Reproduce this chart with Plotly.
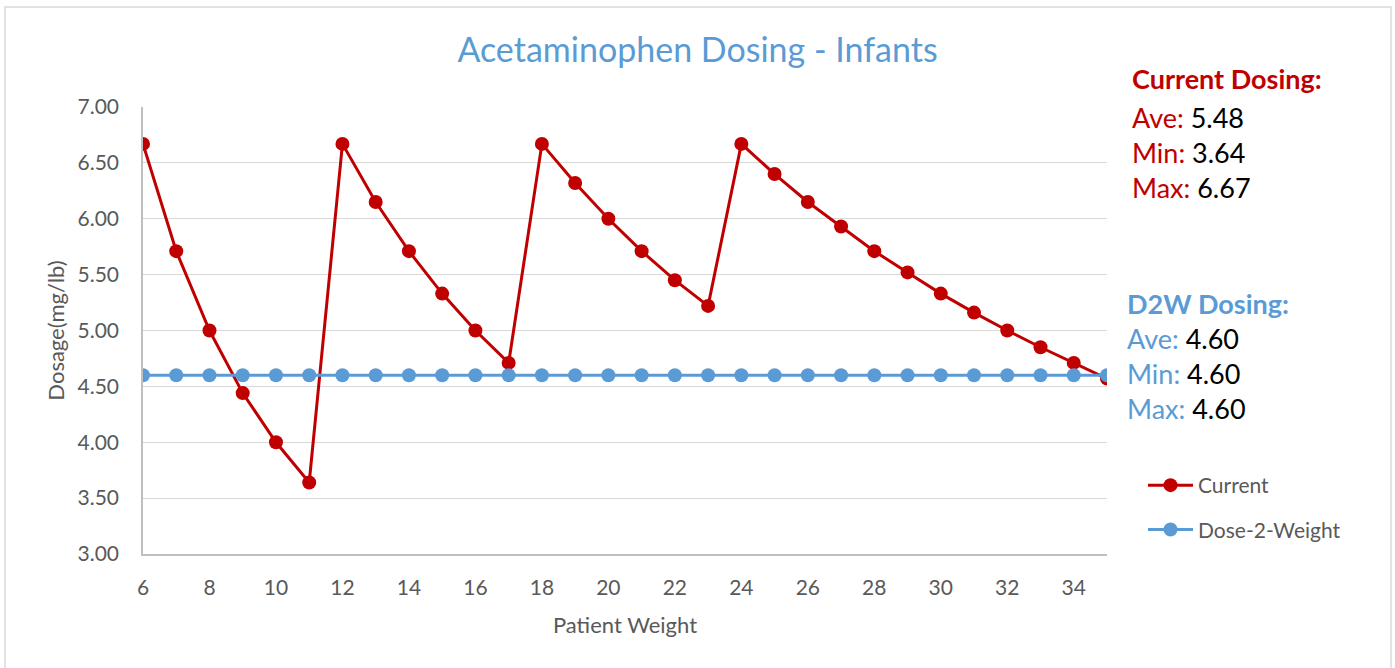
import plotly.graph_objects as go

weights = list(range(6, 36))
current = [6.67, 5.71, 5.00, 4.44, 4.00, 3.64,
           6.67, 6.15, 5.71, 5.33, 5.00, 4.71,
           6.67, 6.32, 6.00, 5.71, 5.45, 5.22,
           6.67, 6.40, 6.15, 5.93, 5.71, 5.52, 5.33, 5.16, 5.00, 4.85, 4.71, 4.57]
d2w = [4.60] * 30
y_ticks = [3.0, 3.5, 4.0, 4.5, 5.0, 5.5, 6.0, 6.5, 7.0]
x_ticks = list(range(6, 36, 2))

RED = "#C00000"
BLUE = "#5B9BD5"
GRAY = "#595959"
FONT = "Lato"

W, H = 1395, 668
L, R, T, B = 143, 288, 107, 114
pw, ph = W - L - R, H - T - B

def px(x):
    return (x - L) / pw

def py(y):
    return (H - B - y) / ph

fig = go.Figure()
fig.add_trace(go.Scatter(x=weights, y=current, name="Current", mode="lines+markers",
                         line=dict(color=RED, width=3), marker=dict(color=RED, size=14),
                         legendgroup="a"))
fig.add_trace(go.Scatter(x=weights, y=d2w, name="Dose-2-Weight", mode="lines+markers",
                         line=dict(color=BLUE, width=3), marker=dict(color=BLUE, size=14),
                         legendgroup="b"))

ann = []
def add(text, x, y, size=27):
    ann.append(dict(text=text, x=px(x), y=py(y), xref="paper", yref="paper",
                    xanchor="left", yanchor="middle", showarrow=False,
                    font=dict(family=FONT, size=size, color="black")))

add(f"<b><span style='color:{RED}'>Current Dosing:</span></b>", 1130, 79)
add(f"<span style='color:{RED}'>Ave:</span> 5.48", 1130, 117)
add(f"<span style='color:{RED}'>Min:</span> 3.64", 1130, 152)
add(f"<span style='color:{RED}'>Max:</span> 6.67", 1130, 187)
add(f"<b><span style='color:{BLUE}'>D2W Dosing:</span></b>", 1125, 303)
add(f"<span style='color:{BLUE}'>Ave:</span> 4.60", 1125, 338)
add(f"<span style='color:{BLUE}'>Min:</span> 4.60", 1125, 373)
add(f"<span style='color:{BLUE}'>Max:</span> 4.60", 1125, 408)

fig.update_layout(
    width=W, height=H,
    margin=dict(l=L, r=R, t=T, b=B),
    paper_bgcolor="white", plot_bgcolor="white",
    font=dict(family=FONT, color=GRAY, size=21),
    title=dict(text="Acetaminophen Dosing - Infants", x=0.5, xref="container", xanchor="center",
               y=1 - 50 / H, yref="container", yanchor="middle",
               font=dict(family=FONT, size=34, color=BLUE)),
    xaxis=dict(range=[6, 35], tickvals=x_ticks, showgrid=False, zeroline=False,
               showline=True, linecolor="#bfbfbf", linewidth=1.5,
               ticks="outside", ticklen=14, tickcolor="rgba(0,0,0,0)",
               tickfont=dict(size=21, color=GRAY),
               title=dict(text="Patient Weight", font=dict(size=22, color=GRAY), standoff=20)),
    yaxis=dict(range=[3, 7], tickvals=y_ticks, tickformat=".2f", showgrid=True,
               gridcolor="#d9d9d9", gridwidth=1, zeroline=False,
               showline=True, linecolor="#bfbfbf", linewidth=1.5,
               ticks="outside", ticklen=18, tickcolor="rgba(0,0,0,0)",
               tickfont=dict(size=21, color=GRAY),
               title=dict(text="Dosage(mg/lb)", font=dict(size=22, color=GRAY), standoff=7)),
    legend=dict(x=px(1143), y=py(465), xanchor="left", yanchor="top",
                font=dict(size=21, color=GRAY), tracegroupgap=14, itemwidth=45,
                bgcolor="rgba(0,0,0,0)"),
    annotations=ann,
    shapes=[dict(type="rect", xref="paper", yref="paper",
                 x0=px(5), x1=px(1391), y0=py(675), y1=py(7),
                 line=dict(color="#d9d9d9", width=1.5), fillcolor="rgba(0,0,0,0)", layer="below")],
)

fig.write_html("out.html", config={"displayModeBar": False},
               post_script="document.body.style.margin='0';document.body.style.padding='0';")
